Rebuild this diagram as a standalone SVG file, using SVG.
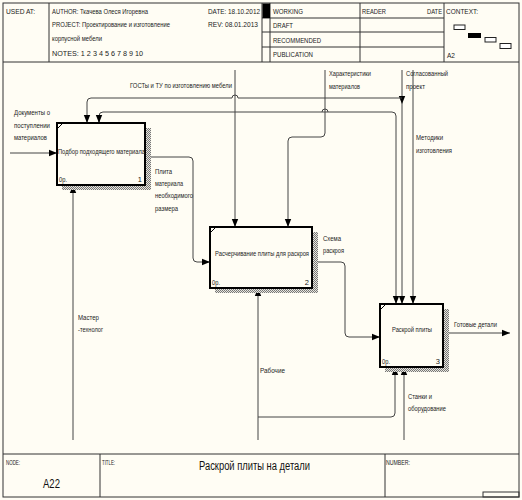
<svg xmlns="http://www.w3.org/2000/svg" width="522" height="500" viewBox="0 0 522 500">
<style>
text{font-family:"Liberation Sans",Arial,sans-serif;font-size:7.5px;fill:#222}
.frame{fill:none;stroke:#333;stroke-width:1}
.box{fill:#FFFDF4;stroke:#000;stroke-width:2}
.shadow{fill:url(#hatch)}
.conn{fill:none;stroke:#444;stroke-width:1}
.title{font-size:12px;fill:#111}
.node{font-size:12.5px;fill:#111}
.small{font-size:6.5px}
</style>
<defs>
<pattern id="hatch" width="2" height="2" patternUnits="userSpaceOnUse">
<rect width="2" height="2" fill="#e8e6de"/>
<rect width="1" height="1" fill="#777"/>
<rect x="1" y="1" width="1" height="1" fill="#777"/>
</pattern>
<marker id="arr" viewBox="0 0 8 8" refX="8" refY="4" markerWidth="8" markerHeight="8" markerUnits="userSpaceOnUse" orient="auto">
<path d="M0,0.8 L8,4 L0,7.2 Z" fill="#000"/>
</marker>
</defs>
<rect x="0" y="0" width="522" height="500" fill="#FFFDF4"/>
<g id="frame">
<rect class="frame" x="3" y="3" width="516" height="494"/>
<line class="frame" x1="3" y1="62" x2="519" y2="62"/>
<line class="frame" x1="49" y1="3" x2="49" y2="62"/>
<line class="frame" x1="262" y1="3" x2="262" y2="62"/>
<line class="frame" x1="270" y1="3" x2="270" y2="62"/>
<line class="frame" x1="360" y1="3" x2="360" y2="62"/>
<line class="frame" x1="444" y1="3" x2="444" y2="62"/>
<line class="frame" x1="262" y1="18" x2="444" y2="18"/>
<line class="frame" x1="262" y1="32" x2="444" y2="32"/>
<line class="frame" x1="262" y1="47" x2="444" y2="47"/>
<rect x="262.5" y="3.5" width="7.5" height="14.5" fill="#000"/>
<rect x="454" y="25" width="11" height="4.5" fill="#fff" stroke="#222" stroke-width="1"/>
<rect x="468" y="33" width="13" height="5" fill="#000"/>
<rect x="485" y="37.5" width="11" height="4.5" fill="#fff" stroke="#222" stroke-width="1"/>
<rect x="500" y="43.5" width="11" height="5" fill="#fff" stroke="#222" stroke-width="1"/>
<text x="6" y="14" textLength="29" lengthAdjust="spacingAndGlyphs">USED AT:</text>
<text x="52" y="14" textLength="96" lengthAdjust="spacingAndGlyphs">AUTHOR:  Ткачева Олеся Игоревна</text>
<text x="52" y="27" textLength="118" lengthAdjust="spacingAndGlyphs">PROJECT:  Проектирование и изготовление</text>
<text x="52" y="41" textLength="50" lengthAdjust="spacingAndGlyphs">корпусной мебели</text>
<text x="52" y="56" textLength="91" lengthAdjust="spacingAndGlyphs">NOTES:  1  2  3  4  5  6  7  8  9  10</text>
<text x="208" y="14" textLength="52" lengthAdjust="spacingAndGlyphs">DATE:  18.10.2012</text>
<text x="208" y="27" textLength="50" lengthAdjust="spacingAndGlyphs">REV:    08.01.2013</text>
<text x="273" y="14" textLength="30" lengthAdjust="spacingAndGlyphs">WORKING</text>
<text x="273" y="28" textLength="20" lengthAdjust="spacingAndGlyphs">DRAFT</text>
<text x="273" y="43" textLength="48" lengthAdjust="spacingAndGlyphs">RECOMMENDED</text>
<text x="273" y="57" textLength="40" lengthAdjust="spacingAndGlyphs">PUBLICATION</text>
<text x="362" y="14" textLength="24" lengthAdjust="spacingAndGlyphs">READER</text>
<text x="427" y="14" textLength="15" lengthAdjust="spacingAndGlyphs">DATE</text>
<text x="446" y="14" textLength="32" lengthAdjust="spacingAndGlyphs">CONTEXT:</text>
<text x="447" y="58" textLength="8" lengthAdjust="spacingAndGlyphs">A2</text>
<line class="frame" x1="3" y1="454" x2="519" y2="454"/>
<line class="frame" x1="100" y1="454" x2="100" y2="497"/>
<line class="frame" x1="385" y1="454" x2="385" y2="497"/>
<rect class="frame" x="483" y="492" width="36" height="5"/>
<text x="6" y="465" textLength="14" lengthAdjust="spacingAndGlyphs">NODE:</text>
<text x="102" y="465" textLength="13" lengthAdjust="spacingAndGlyphs">TITLE:</text>
<text x="386" y="465" textLength="24" lengthAdjust="spacingAndGlyphs">NUMBER:</text>
<text class="node" x="43" y="488" textLength="17" lengthAdjust="spacingAndGlyphs">A22</text>
<text class="title" x="199" y="470" textLength="111" lengthAdjust="spacingAndGlyphs">Раскрой плиты на детали</text>
</g>
<g id="connectors">
<path class="conn" d="M10,153 H57" marker-end="url(#arr)"/>
<path class="conn" d="M235,70 V227" marker-end="url(#arr)"/>
<path class="conn" d="M402,70 V104" marker-end="url(#arr)"/>
<path class="conn" d="M402,104 V304" marker-end="url(#arr)"/>
<path class="conn" d="M402,98 H238 A3,3 0 0 0 232,98 H91 Q87,98 87,102 V123" marker-end="url(#arr)"/>
<path class="conn" d="M99,123 V116 Q99,112 103,112 H328 A3,3 0 0 0 322,112 M328,112 H392 Q396,112 396,116 V304" marker-end="url(#arr)"/>
<path class="conn" d="M99,116 V123" marker-end="url(#arr)"/>
<path class="conn" d="M325,70 V133 Q325,137 321,137 H292 Q288,137 288,141 V227" marker-end="url(#arr)"/>
<path class="conn" d="M413,70 V304" marker-end="url(#arr)"/>
<path class="conn" d="M145,157 H189 Q193,157 193,161 V258 Q193,262 197,262 H210" marker-end="url(#arr)"/>
<path class="conn" d="M312,262 H341 Q345,262 345,266 V333 Q345,337 349,337 H380" marker-end="url(#arr)"/>
<path class="conn" d="M443,333 H510" marker-end="url(#arr)"/>
<path class="conn" d="M73,440 V185" marker-end="url(#arr)"/>
<path class="conn" d="M258,440 V288" marker-end="url(#arr)"/>
<path class="conn" d="M258,417 H391 Q395,417 395,413 V367" marker-end="url(#arr)"/>
<path class="conn" d="M404,440 V367" marker-end="url(#arr)"/>
<text x="130" y="88" textLength="102" lengthAdjust="spacingAndGlyphs">ГОСТы и ТУ по изготовлению мебели</text>
<text x="329" y="76" textLength="42" lengthAdjust="spacingAndGlyphs">Характеристики</text>
<text x="329" y="89" textLength="31" lengthAdjust="spacingAndGlyphs">материалов</text>
<text x="406" y="76" textLength="42" lengthAdjust="spacingAndGlyphs">Согласованный</text>
<text x="406" y="89" textLength="19" lengthAdjust="spacingAndGlyphs">проект</text>
<text x="416" y="140" textLength="27" lengthAdjust="spacingAndGlyphs">Методики</text>
<text x="416" y="153" textLength="36" lengthAdjust="spacingAndGlyphs">изготовления</text>
<text x="14" y="115" textLength="36" lengthAdjust="spacingAndGlyphs">Документы о</text>
<text x="14" y="128" textLength="36" lengthAdjust="spacingAndGlyphs">поступлении</text>
<text x="14" y="140" textLength="33" lengthAdjust="spacingAndGlyphs">материалов</text>
<text x="155" y="174" textLength="17" lengthAdjust="spacingAndGlyphs">Плита</text>
<text x="155" y="186" textLength="28" lengthAdjust="spacingAndGlyphs">материала</text>
<text x="155" y="198" textLength="38" lengthAdjust="spacingAndGlyphs">необходимого</text>
<text x="155" y="211" textLength="23" lengthAdjust="spacingAndGlyphs">размера</text>
<text x="323" y="241" textLength="18" lengthAdjust="spacingAndGlyphs">Схема</text>
<text x="323" y="253" textLength="21" lengthAdjust="spacingAndGlyphs">раскроя</text>
<text x="454" y="327" textLength="43" lengthAdjust="spacingAndGlyphs">Готовые детали</text>
<text x="78" y="320" textLength="21" lengthAdjust="spacingAndGlyphs">Мастер</text>
<text x="78" y="332" textLength="25" lengthAdjust="spacingAndGlyphs">-технолог</text>
<text x="260" y="373" textLength="25" lengthAdjust="spacingAndGlyphs">Рабочие</text>
<text x="408" y="399" textLength="24" lengthAdjust="spacingAndGlyphs">Станки и</text>
<text x="408" y="411" textLength="38" lengthAdjust="spacingAndGlyphs">оборудование</text>
</g>
<g id="box1">
<rect class="shadow" x="146" y="128" width="5" height="62"/>
<rect class="shadow" x="62" y="186" width="89" height="4"/>
<rect class="box" x="57" y="123" width="88" height="62"/>
<path d="M58,128 L62,124" stroke="#000" stroke-width="1"/>
<text x="58" y="154" textLength="87" lengthAdjust="spacingAndGlyphs">Подбор подходящего материала</text>
<text x="59" y="182" textLength="8" lengthAdjust="spacingAndGlyphs">0р.</text>
<text x="142" y="182" text-anchor="end">1</text>
</g>
<g id="box2">
<rect class="shadow" x="313" y="232" width="5" height="61"/>
<rect class="shadow" x="215" y="289" width="103" height="4"/>
<rect class="box" x="210" y="227" width="102" height="61"/>
<path d="M211,232 L215,228" stroke="#000" stroke-width="1"/>
<text class="small" x="215" y="256" textLength="94" lengthAdjust="spacingAndGlyphs">Расчерчивание плиты для раскроя</text>
<text x="212" y="285" textLength="8" lengthAdjust="spacingAndGlyphs">0р.</text>
<text x="309" y="285" text-anchor="end">2</text>
</g>
<g id="box3">
<rect class="shadow" x="444" y="309" width="5" height="63"/>
<rect class="shadow" x="385" y="368" width="64" height="4"/>
<rect class="box" x="380" y="304" width="63" height="63"/>
<path d="M381,309 L385,305" stroke="#000" stroke-width="1"/>
<text x="392" y="332" textLength="40" lengthAdjust="spacingAndGlyphs">Раскрой плиты</text>
<text x="382" y="364" textLength="8" lengthAdjust="spacingAndGlyphs">0р.</text>
<text x="440" y="364" text-anchor="end">3</text>
</g>
</svg>
